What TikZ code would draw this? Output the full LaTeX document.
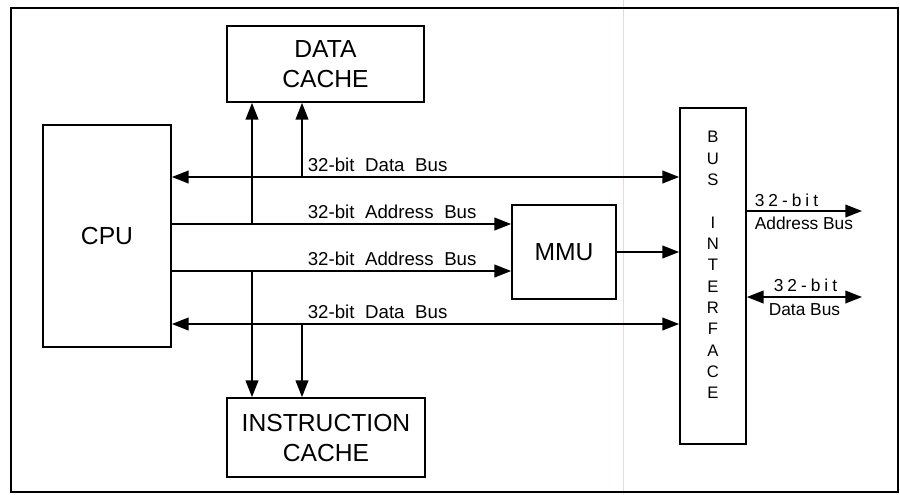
\documentclass[tikz,border=0pt]{standalone}
\usepackage{fontspec}
\setmainfont{Liberation Sans}
\usetikzlibrary{arrows.meta}
\begin{document}
\begin{tikzpicture}[x=0.75pt,y=-0.75pt,
  line width=1.2pt,
  >={Triangle[length=12.5pt,width=9.5pt]},
  blk/.style={draw,line width=1.3pt,inner sep=0pt,align=center,
    font=\fontsize{18.5}{22.5}\selectfont},
  buslbl/.style={anchor=base west,inner sep=0pt,font=\fontsize{14}{16}\selectfont},
  extlbl/.style={anchor=base west,inner sep=0pt,font=\fontsize{13}{15}\selectfont},
  biletters/.style={inner sep=0pt,align=center,font=\fontsize{12.5}{16}\selectfont}]
\useasboundingbox (0,0) rectangle (900,494);
% faint fold line
\draw[line width=0.5pt,color={rgb,255:red,235;green,215;blue,220}] (623,0) -- (623,494);
% frame
\draw[line width=1.5pt] (11,8) rectangle (898,492);
% blocks
\node[blk,minimum width=147.75pt,minimum height=57pt] (dc) at (325.5,64) {DATA\\CACHE};
\node[blk,minimum width=96pt,minimum height=166.5pt] (cpu) at (107,236) {CPU};
\node[blk,minimum width=78pt,minimum height=70.5pt] (mmu) at (564,252) {MMU};
\node[blk,minimum width=148.5pt,minimum height=59.25pt] (ic) at (326,437.5) {INSTRUCTION\\CACHE};
\node[blk,minimum width=49.5pt,minimum height=252pt] (bi) at (713,276) {};
\node[biletters] (bitxt) at ([yshift=8.25pt]bi.center) {B\\U\\S\\[16pt]I\\N\\T\\E\\R\\F\\A\\C\\E};
% junction coordinates
\coordinate (ja1) at (252,224);
\coordinate (jd1) at (302,177);
\coordinate (ja2) at (252,271);
\coordinate (jd2) at (302,324);
% buses
\draw[<->] (cpu.east |- jd1) -- (bi.west |- jd1);
\draw[->] (cpu.east |- ja1) -- (mmu.west |- ja1);
\draw[->] (cpu.east |- ja2) -- (mmu.west |- ja2);
\draw[<->] (cpu.east |- jd2) -- (bi.west |- jd2);
\draw[->] (mmu.east) -- (bi.west |- mmu.east);
% cache taps
\draw[->] (ja1) -- (ja1 |- dc.south);
\draw[->] (jd1) -- (jd1 |- dc.south);
\draw[->] (ja2) -- (ja2 |- ic.north);
\draw[->] (jd2) -- (jd2 |- ic.north);
% bus labels
\node[buslbl] (l1) at (307,171) {32-bit\hskip 8pt Data\hskip 8pt Bus};
\node[buslbl] (l2) at (307,218) {32-bit\hskip 8pt Address\hskip 8pt Bus};
\node[buslbl] (l3) at (307,265) {32-bit\hskip 8pt Address\hskip 8pt Bus};
\node[buslbl] (l4) at (307,318) {32-bit\hskip 8pt Data\hskip 8pt Bus};
% external buses
\coordinate (ea) at (862,211);
\coordinate (ed) at (862,297);
\draw[->] (bi.east |- ea) -- (ea);
\draw[<->] (bi.east |- ed) -- (ed);
\node[extlbl] (e1) at (754,206) {3\hskip3pt 2\hskip3pt -\hskip3pt b\hskip3pt i\hskip3pt t};
\node[extlbl] (e2) at (754,229) {Address Bus};
\node[extlbl] (e3) at (773,291) {3\hskip3pt 2\hskip3pt -\hskip3pt b\hskip3pt i\hskip3pt t};
\node[extlbl] (e4) at (768,315) {Data Bus};
\end{tikzpicture}
\end{document}
